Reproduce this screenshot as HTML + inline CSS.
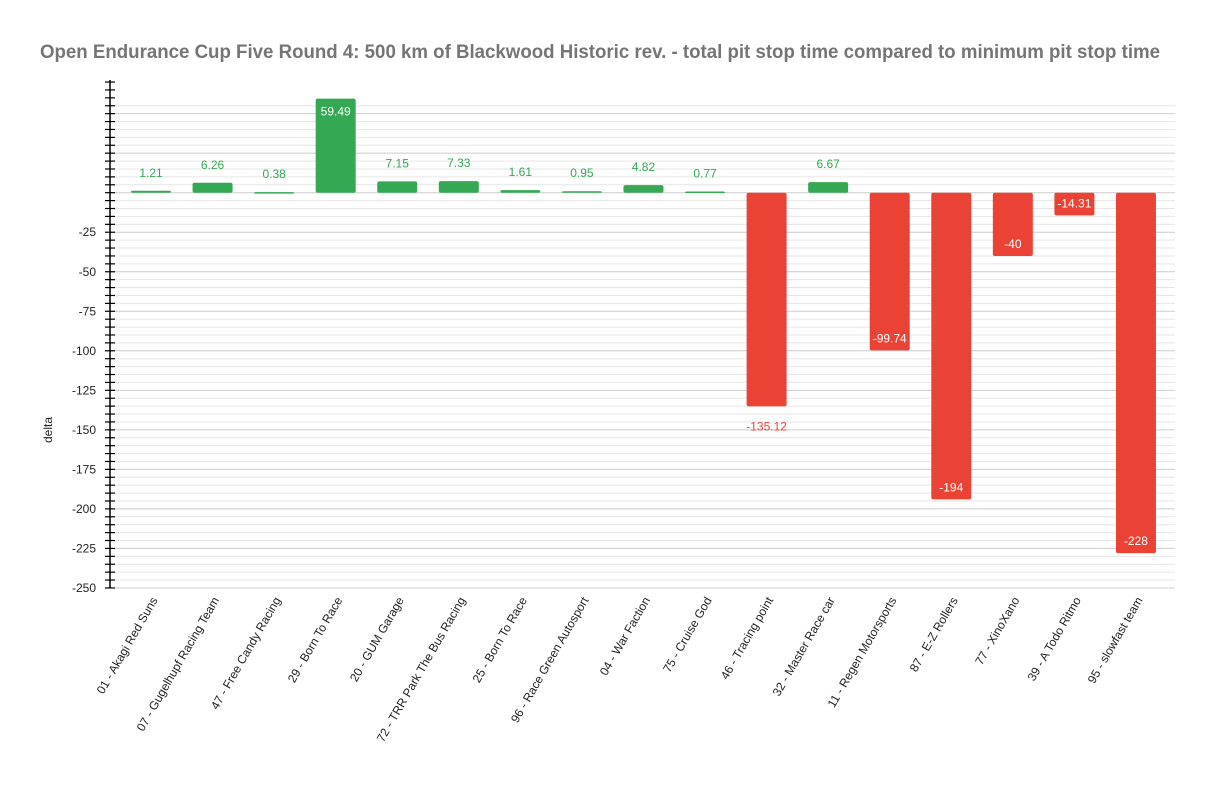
<!DOCTYPE html>
<html><head><meta charset="utf-8"><style>
html,body{margin:0;padding:0;background:#fff;}
svg{display:block;font-family:"Liberation Sans",Arial,sans-serif;}
</style></head><body>
<svg id="c" width="1217" height="803" xmlns="http://www.w3.org/2000/svg">
<rect width="1217" height="803" fill="#fff"/>
<text x="40" y="58" textLength="1120" lengthAdjust="spacingAndGlyphs" font-size="19" font-weight="bold" fill="#757575">Open Endurance Cup Five Round 4: 500 km of Blackwood Historic rev. - total pit stop time compared to minimum pit stop time</text>
<text x="52" y="430" font-size="12" fill="#222" transform="rotate(-90 52 430)" text-anchor="middle">delta</text>
</svg>
<script>
const s=document.getElementById('c');const NS='http://www.w3.org/2000/svg';
function el(t,a,txt){const e=document.createElementNS(NS,t);for(const k in a)e.setAttribute(k,a[k]);if(txt!==undefined)e.textContent=txt;s.appendChild(e);return e;}
const Y0=192.7,K=1.581;const y=v=>Y0-v*K;
for(let v=55;v>=-250;v-=5){const yy=y(v);el('line',{x1:110,x2:1175,y1:yy,y2:yy,stroke:v%25==0?'#cccccc':'#e6e6e6','stroke-width':1});}
for(let v=70;v>=-250;v-=5){const yy=y(v);el('line',{x1:105,x2:115,y1:yy,y2:yy,stroke:'#000','stroke-width':1.2});}
el('line',{x1:110,x2:110,y1:80,y2:588,stroke:'#000','stroke-width':1.5});
for(let v=-25;v>=-250;v-=25){el('text',{x:96,y:y(v)+4,'text-anchor':'end','font-size':12,fill:'#222'},String(v));}
const d=[["01 - Akagi Red Suns",1.21],["07 - Gugelhupf Racing Team",6.26],["47 - Free Candy Racing",0.38],["29 - Born To Race",59.49],["20 - GUM Garage",7.15],["72 - TRR Park The Bus Racing",7.33],["25 - Born To Race",1.61],["96 - Race Green Autosport",0.95],["04 - War Faction",4.82],["75 - Cruise God",0.77],["46 - Tracing point",-135.12],["32 - Master Race car",6.67],["11 - Regen Motorsports",-99.74],["87 - E-Z Rollers",-194],["77 - XinoXano",-40],["39 - A Todo Ritmo",-14.31],["95 - slowfast team",-228]];
d.forEach((r,i)=>{const cx=151+i*61.56,v=r[1];const top=v>0?y(v):Y0,bot=v>0?Y0:y(v);
const col=v>0?'#34a853':'#ea4335';
el('rect',{x:cx-20,y:top,width:40,height:Math.max(bot-top,1.5),fill:col,rx:2});
if(v>0){if(v>30)el('text',{x:cx,y:top+17,'text-anchor':'middle','font-size':12,fill:'#fff'},String(v));
else el('text',{x:cx,y:top-14,'text-anchor':'middle','font-size':12,fill:col},String(v));}
else{if(v==-135.12)el('text',{x:cx,y:bot+24,'text-anchor':'middle','font-size':12,fill:col},String(v));
else el('text',{x:cx,y:bot-8,'text-anchor':'middle','font-size':12,fill:'#fff'},String(v));}
el('text',{x:cx+7,y:600,'text-anchor':'end','font-size':12,fill:'#222',transform:`rotate(-60 ${cx+7} 600)`},r[0]);
});
</script>
</body></html>
